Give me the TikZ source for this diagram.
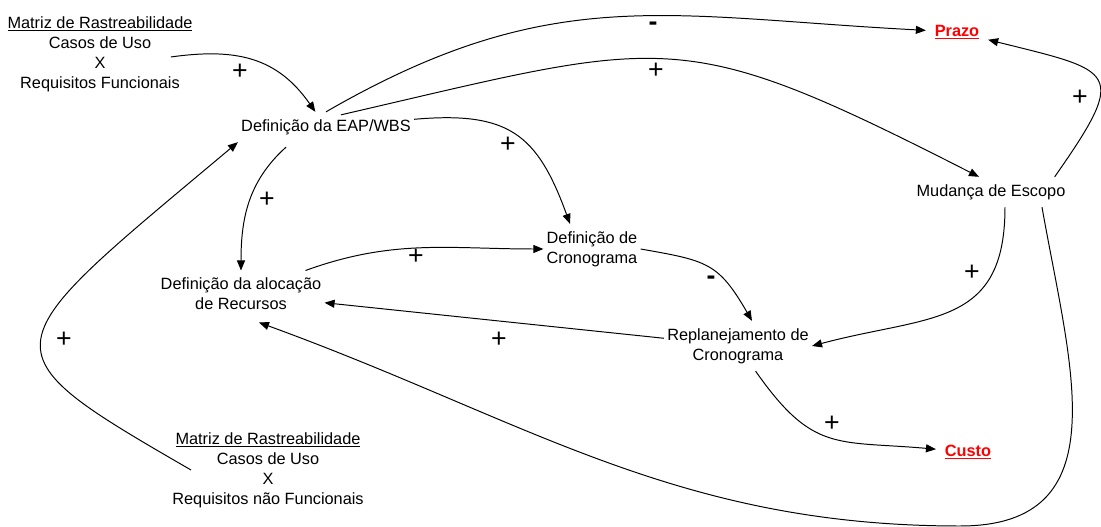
\documentclass[tikz,border=0pt]{standalone}
\usepackage{fontspec}
\setmainfont{Liberation Sans}
\usetikzlibrary{arrows.meta}
\usetikzlibrary{calc}

\tikzset{
	box/.style={align=center,inner xsep=2pt,inner ysep=5pt,font=\fontsize{11.6}{14.2}\selectfont},
	goal/.style={box,inner xsep=6pt,text=red,font=\fontsize{11.6}{14.2}\selectfont\bfseries},
	sign/.style={inner sep=0pt,font=\fontsize{19}{19}\selectfont}
}

\begin{document}
\begin{tikzpicture}[>/.tip={Triangle[length=2.5mm,width=2mm]},x=0.025cm,y=0.025cm,line width=0.7pt]
	\useasboundingbox (0,0) rectangle (1101,527);

	\draw (100,473) node (mrf) [box] {\underline{Matriz de Rastreabilidade}\\Casos de Uso\\X\\Requisitos Funcionais};
	\draw (268,57) node (mrnf) [box] {\underline{Matriz de Rastreabilidade}\\Casos de Uso\\X\\Requisitos não Funcionais};
	\draw (326,400) node (eap) [box] {Definição da EAP/WBS};
	\draw (241,233) node (aloc) [box] {Definição da alocação\\de Recursos};
	\draw (592,278) node (crono) [box] {Definição de\\Cronograma};
	\draw (738,181) node (replan) [box] {Replanejamento de\\Cronograma};
	\draw (991,335) node (escopo) [box] {Mudança de Escopo};
	\draw (957,495) node (prazo) [goal] {\underline{Prazo}};
	\draw (968,75) node (custo) [goal] {\underline{Custo}};
	\coordinate (loopbot) at (960,1);

	\draw[->] ($(mrf.east)+(-25,-3)$) to [out=8,in=125,looseness=1.1] (eap);
	\draw[->] (eap.north) to [out=30,in=177,looseness=1.1] (prazo);
	\draw[->] ($(eap.north)+(15,-3)$) to [out=13,in=153,looseness=1.35] ($(escopo.north)+(-12,0)$);
	\draw[->] (eap) to [out=5,in=110,looseness=1.3] ($(crono.north)+(-22,0)$);
	\draw[->] ($(eap.south)+(-40,-5)$) to [out=222,in=90] (aloc);
	\draw[->] (aloc) to [out=20,in=180] (crono);
	\draw[->] (crono.east) to [out=-10,in=120,looseness=1.3] ($(replan.north)+(14,0)$);
	\draw[->] (replan) to (aloc);
	\draw[->] ($(escopo.south)+(14,0)$) to [out=-90,in=15,looseness=1.3] (replan.east);
	\draw[->] ($(escopo.north east)+(-14,0)$) to [out=55,in=-14,looseness=2.2] (prazo);
	\draw[->] ($(escopo.south)+(51,0)$) to [out=-80,in=0,looseness=1.25] (loopbot) to [out=180,in=-20] ($(aloc.south)+(18,-5)$);
	\draw[->] (replan) to [out=-55,in=175,looseness=1.3] (custo);
	\draw[->] ($(mrnf.west)+(22,0)$) to [out=150,in=220,out looseness=1.9,in looseness=2.5] (eap.south west);

	\draw (240,455) node (s1) [sign] {+};
	\draw (653,501) node (s2) [sign] {\textbf{-}};
	\draw (656,456) node (s3) [sign] {+};
	\draw (508,382) node (s4) [sign] {+};
	\draw (267,327) node (s5) [sign] {+};
	\draw (416,270) node (s6) [sign] {+};
	\draw (711,247) node (s7) [sign] {\textbf{-}};
	\draw (499,187) node (s8) [sign] {+};
	\draw (972,254) node (s9) [sign] {+};
	\draw (1080,429) node (s10) [sign] {+};
	\draw (832,103) node (s11) [sign] {+};
	\draw (64,187) node (s12) [sign] {+};
\end{tikzpicture}
\end{document}
